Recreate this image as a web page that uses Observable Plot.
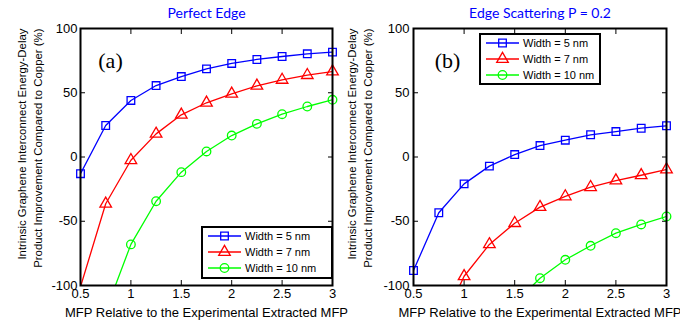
<!DOCTYPE html>
<html><head><meta charset="utf-8">
<script src="https://cdn.jsdelivr.net/npm/d3@7"></script>
<script src="https://cdn.jsdelivr.net/npm/@observablehq/plot@0.6"></script>
<style>
body{margin:0;background:#fff}
#wrap{position:relative;width:680px;height:320px;display:flex;background:#fff}
.panel{position:relative;width:340px;height:320px}
.panel svg{overflow:visible}
.legend{position:absolute;background:#fff;border:2px solid #000;box-sizing:border-box;font-family:"Liberation Sans",Arial,sans-serif;font-size:11px;color:#000}
.legend .row{display:flex;align-items:center;height:16px;white-space:nowrap}
.legend svg{overflow:visible}
</style></head><body><div id="wrap"></div>
<script>
// Data
const xValues = [0.5, 0.75, 1, 1.25, 1.5, 1.75, 2, 2.25, 2.5, 2.75, 3];
const seriesNames = ["Width = 5 nm", "Width = 7 nm", "Width = 10 nm"];
const seriesColors = ["#0000ff", "#ff0000", "#00ff00"];
const seriesSymbols = ["square", "triangle", "circle"];
// Panel (a) Perfect Edge
const perfect5 = [-13, 24.5, 44, 55.6, 62.6, 68.6, 72.8, 75.9, 78.2, 80.3, 81.6];
const perfect7 = [-101, -36.4, -2.5, 18, 32.8, 42.2, 49.2, 55.4, 60, 63.7, 66.5];
const perfect10 = [null, -120, -68, -34.4, -11.8, 4.3, 16.7, 25.8, 33.3, 39.3, 44.5];
// Panel (b) Edge Scattering P = 0.2
const scatter5 = [-88.3, -43.4, -20.9, -7.1, 1.9, 8.9, 13.1, 17.3, 19.8, 22.4, 24.3];
const scatter7 = [null, -135, -92.8, -68, -51.5, -39, -30.7, -23.5, -18.3, -14.2, -9.7];
const scatter10 = [null, null, null, null, -114, -94.3, -80, -69.1, -59.3, -52.5, -46.3];
const xTicks = [0.5, 1, 1.5, 2, 2.5, 3];
const yTicks = [-100, -50, 0, 50, 100];
const xLabel = "MFP Relative to the Experimental Extracted MFP";
const yLabel = "Intrinsic Graphene Interconnect Energy-Delay\nProduct Improvement Compared to Copper (%)";

const symMap = {square: d3.symbolSquare, triangle: d3.symbolTriangle, circle: d3.symbolCircle};
const R = 4.3;

function makePanel(cfg) {
  const rows = [];
  cfg.series.forEach((vals, si) => vals.forEach((v, i) => {
    if (v != null) rows.push({x: xValues[i], y: v, name: seriesNames[si]});
  }));
  const inside = rows.filter(d => d.y >= -100 && d.y <= 100);
  const chart = Plot.plot({
    width: 340, height: 320,
    marginLeft: cfg.ml, marginRight: cfg.mr, marginTop: 28, marginBottom: 35,
    style: {fontFamily: "Liberation Sans, Arial, sans-serif", fontSize: "13px", color: "#000", background: "transparent", overflow: "visible"},
    x: {domain: [0.5, 3]},
    y: {domain: [-100, 100]},
    color: {domain: seriesNames, range: seriesColors},
    symbol: {domain: seriesNames, range: seriesSymbols},
    marks: [
      Plot.axisX({ticks: xTicks, tickSize: 0, tickPadding: 3, tickFormat: d => String(d), label: null}),
      Plot.axisX({ticks: xTicks, tickSize: -5, tickFormat: () => "", label: null}),
      Plot.axisX({anchor: "top", ticks: xTicks, tickSize: -5, tickFormat: () => "", label: null}),
      Plot.axisY({ticks: yTicks, tickSize: 0, tickPadding: cfg.tp, tickFormat: d => String(d), label: null}),
      Plot.axisY({ticks: yTicks, tickSize: -5, tickFormat: () => "", label: null}),
      Plot.axisY({anchor: "right", ticks: yTicks, tickSize: -5, tickFormat: () => "", label: null}),
      Plot.line(rows, {x: "x", y: "y", z: "name", stroke: "name", strokeWidth: 1.3, clip: true}),
      Plot.dot(inside, {x: "x", y: "y", stroke: "name", symbol: "name", r: R, fill: "none", strokeWidth: 1.3}),
      Plot.frame({stroke: "#000", strokeWidth: 2}),
      Plot.text([cfg.title], {text: d => d, frameAnchor: "top", lineAnchor: "middle", textAnchor: "middle", dy: -15, fill: "#0000ff", fontFamily: "Lato", fontSize: 14}),
      Plot.text([cfg.tag], {text: d => d, frameAnchor: "top-left", textAnchor: "middle", lineAnchor: "middle", dx: cfg.tagDx, dy: 32, fontFamily: "Liberation Serif", fontSize: 22}),
      Plot.text([xLabel], {text: d => d, frameAnchor: "bottom", lineAnchor: "middle", textAnchor: "middle", dy: 27}),
      Plot.text([yLabel], {text: d => d, frameAnchor: "top-left", textAnchor: "end", lineAnchor: "middle", rotate: -90, dx: cfg.ylDx, fontSize: 11.4, lineHeight: 1.4})
    ]
  });
  const div = document.createElement("div");
  div.className = "panel";
  div.appendChild(chart);
  // legend
  const lg = document.createElement("div");
  lg.className = "legend";
  Object.assign(lg.style, {left: cfg.legend[0] + "px", top: cfg.legend[1] + "px", width: cfg.legend[2] + "px", height: cfg.legend[3] + "px", paddingLeft: cfg.legend[4] + "px", paddingTop: "0px"});
  seriesNames.forEach((n, i) => {
    const row = document.createElement("div");
    row.className = "row";
    const svg = d3.create("svg").attr("width", 33).attr("height", 16).style("margin-right", "4px");
    svg.append("line").attr("x1", 0).attr("x2", 33).attr("y1", 8).attr("y2", 8).attr("stroke", seriesColors[i]).attr("stroke-width", 1.3);
    svg.append("path").attr("d", d3.symbol(symMap[seriesSymbols[i]], Math.PI * R * R)()).attr("transform", "translate(16.5,8)")
      .attr("fill", "none").attr("stroke", seriesColors[i]).attr("stroke-width", 1.3);
    row.appendChild(svg.node());
    const t = document.createElement("span");
    t.textContent = n;
    row.appendChild(t);
    lg.appendChild(row);
  });
  div.appendChild(lg);
  return div;
}

const wrap = document.getElementById("wrap");
wrap.appendChild(makePanel({title: "Perfect Edge", tag: "(a)", series: [perfect5, perfect7, perfect10], ml: 80, mr: 8, tp: 3, tagDx: 30, ylDx: -51.3, legend: [201, 226, 132, 53, 5]}));
wrap.appendChild(makePanel({title: "Edge Scattering P = 0.2", tag: "(b)", series: [scatter5, scatter7, scatter10], ml: 73, mr: 14, tp: 4, tagDx: 34, ylDx: -54.3, legend: [139, 33, 122, 52, 5]}));
</script>
</body></html>
